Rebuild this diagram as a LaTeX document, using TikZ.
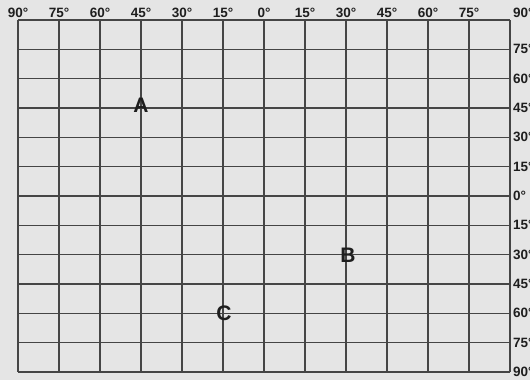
\documentclass[tikz,border=0pt]{standalone}
\usepackage{fontspec}
\setmainfont{Liberation Sans}
\usepackage{tikz}
\usetikzlibrary{positioning}
\definecolor{paper}{HTML}{E5E5E5}
\definecolor{gridline}{HTML}{454545}
\definecolor{inkgrey}{HTML}{1E1E1E}
\tikzset{
  gridrule/.style={draw=gridline, line width=1.3pt},
  degtop/.style={font=\bfseries\fontsize{13.5}{13.5}\selectfont, text=inkgrey,
    anchor=base, inner sep=0pt},
  degright/.style={font=\bfseries\fontsize{13.5}{13.5}\selectfont, text=inkgrey,
    anchor=west, inner sep=0pt},
  pointlbl/.style={font=\bfseries\fontsize{21}{21}\selectfont, text=inkgrey,
    inner sep=0pt},
}

\begin{document}
\begin{tikzpicture}[x=1pt, y=-1pt]
  % page and frame
  \fill[paper] (0,0) rectangle (530,380);
  \useasboundingbox (0,0) rectangle (530,380);
  \clip (0,0) rectangle (530,380);

  % meridians and parallels
  \foreach \i in {0,...,12}
    \draw[gridrule] ({18+41*\i},20) -- ({18+41*\i},372);
  \foreach \j in {0,...,12}
    \draw[gridrule] (18,{20+29.333*\j}) -- (510,{20+29.333*\j});

  % longitude labels
  \foreach \d [count=\i from 0] in {90,75,60,45,30,15,0,15,30,45,60,75}
    \node[degtop] (lon\i) at ({18+41*\i},17) {\d°};
  \node[degtop, anchor=base west] (lon12) at (513,17) {90°};

  % latitude labels
  \foreach \d [count=\j from 1] in {75,60,45,30,15,0,15,30,45,60,75,90}
    \node[degright] (lat\j) at (513,{20+29.333*\j}) {\d°};

  % points
  \node[pointlbl] (ptA) at (141,105) {A};
  \node[pointlbl] (ptB) at (348,255) {B};
  \node[pointlbl] (ptC) at (224,313) {C};
\end{tikzpicture}
\end{document}
